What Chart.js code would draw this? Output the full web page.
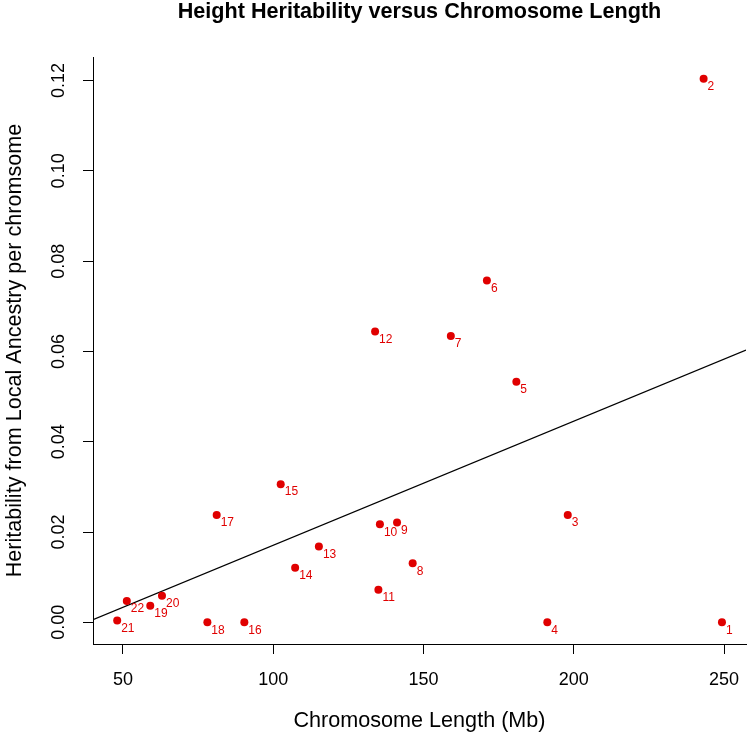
<!DOCTYPE html>
<html>
<head>
<meta charset="utf-8">
<script src="https://cdn.jsdelivr.net/npm/chart.js@4/dist/chart.umd.min.js"></script>
<style>
  html, body { margin: 0; padding: 0; background: #ffffff; }
  canvas { display: block; }
</style>
</head>
<body>
<canvas id="c" width="750" height="738"></canvas>
<script>
// ---- data ----
const chromosomes = ['1','2','3','4','5','6','7','8','9','10','11','12','13','14','15','16','17','18','19','20','21','22'];
const lengthMb = [249.3, 243.2, 198.0, 191.2, 180.9, 171.1, 159.1, 146.4, 141.2, 135.5, 135.0, 133.9, 115.2, 107.3, 102.5, 90.4, 81.2, 78.1, 59.1, 63.0, 48.1, 51.3];
const heritability = [0.0000, 0.1204, 0.0238, 0.0000, 0.0533, 0.0757, 0.0634, 0.0131, 0.0221, 0.0217, 0.0072, 0.0644, 0.0168, 0.0121, 0.0306, 0.0000, 0.0238, 0.0000, 0.0037, 0.0059, 0.0004, 0.0047];
// fitted line end points
const trendX = [40.05, 257.3];
const trendY = [0.0006, 0.0603];
// axes
const xTicks = [50, 100, 150, 200, 250];
const yTicks = [0.00, 0.02, 0.04, 0.06, 0.08, 0.10, 0.12];
const xRange = [40.05, 257.3];
const yRange = [-0.0048, 0.1252];

const FONT = "'Liberation Sans', Arial, Helvetica, sans-serif";
const RED = '#e00000';

const points = lengthMb.map((x, i) => ({x: x, y: heritability[i]}));
const trend = trendX.map((x, i) => ({x: x, y: trendY[i]}));

const pointLabels = {
  id: 'pointLabels',
  afterDatasetsDraw(chart) {
    const ctx = chart.ctx;
    const meta = chart.getDatasetMeta(0);
    ctx.save();
    ctx.fillStyle = RED;
    ctx.font = '12px ' + FONT;
    ctx.textAlign = 'left';
    ctx.textBaseline = 'middle';
    meta.data.forEach((el, i) => {
      ctx.fillText(chromosomes[i], el.x + 4, el.y + 8);
    });
    ctx.restore();
  }
};

new Chart(document.getElementById('c'), {
  type: 'scatter',
  data: {
    datasets: [
      {
        label: 'Chromosomes',
        data: points,
        backgroundColor: RED,
        borderColor: RED,
        borderWidth: 0,
        pointRadius: 4,
        pointHoverRadius: 4
      },
      {
        type: 'line',
        label: 'Fit',
        data: trend,
        borderColor: '#000000',
        borderWidth: 1.2,
        pointRadius: 0,
        fill: false,
        tension: 0
      }
    ]
  },
  options: {
    responsive: false,
    devicePixelRatio: 1,
    animation: false,
    layout: { padding: { left: 0, right: 3, top: 0, bottom: 0 } },
    plugins: {
      legend: { display: false },
      tooltip: { enabled: false },
      title: {
        display: true,
        fullSize: false,
        text: 'Height Heritability versus Chromosome Length',
        color: '#000000',
        font: { family: FONT, size: 21.6, weight: 'bold', lineHeight: 1 },
        padding: { top: 1.5, bottom: 34 }
      }
    },
    scales: {
      x: {
        type: 'linear',
        min: xRange[0],
        max: xRange[1],
        afterBuildTicks: s => { s.ticks = xTicks.map(v => ({value: v})); },
        afterFit: s => { s.height = 94; s.paddingLeft = 0; s.paddingRight = 0; },
        ticks: {
          autoSkip: false,
          maxRotation: 0,
          color: '#000000',
          padding: 15,
          font: { family: FONT, size: 18 },
          callback: v => String(v)
        },
        grid: { display: true, drawOnChartArea: false, drawTicks: true, tickLength: 10, color: '#000000', lineWidth: 1 },
        border: { display: true, color: '#000000', width: 1 },
        title: {
          display: true,
          text: 'Chromosome Length (Mb)',
          color: '#000000',
          font: { family: FONT, size: 21.6, lineHeight: 1 },
          padding: { top: 0, bottom: 6.5 }
        }
      },
      y: {
        type: 'linear',
        min: yRange[0],
        max: yRange[1],
        afterBuildTicks: s => { s.ticks = yTicks.map(v => ({value: v})); },
        afterFit: s => { s.width = 93; s.paddingTop = 0; s.paddingBottom = 0; },
        ticks: {
          autoSkip: false,
          minRotation: 90,
          maxRotation: 90,
          crossAlign: 'center',
          color: '#000000',
          padding: 6.5,
          font: { family: FONT, size: 18 },
          callback: v => Number(v).toFixed(2)
        },
        grid: { display: true, drawOnChartArea: false, drawTicks: true, tickLength: 10, color: '#000000', lineWidth: 1 },
        border: { display: true, color: '#000000', width: 1 },
        title: {
          display: true,
          text: 'Heritability from Local Ancestry per chromsome',
          color: '#000000',
          font: { family: FONT, size: 21.6, lineHeight: 1 },
          padding: { top: 4.2, bottom: 0 }
        }
      }
    }
  },
  plugins: [pointLabels]
});
</script>
</body>
</html>
